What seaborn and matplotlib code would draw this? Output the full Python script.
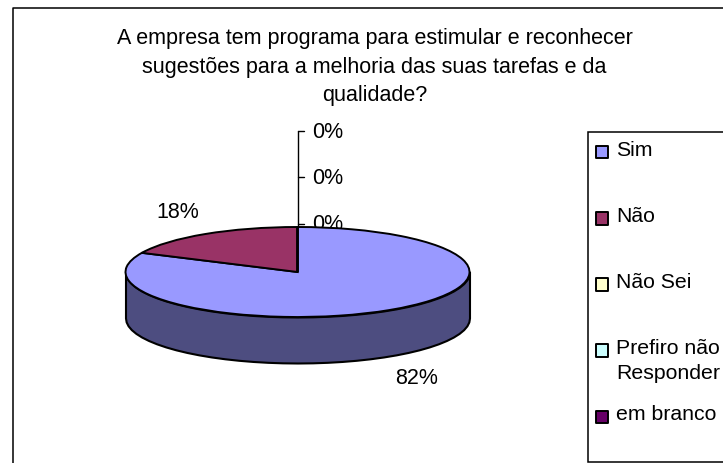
"""Pie chart from a survey question, drawn as a tilted 3D pie with side legend."""

import numpy as np
import pandas as pd
import matplotlib
matplotlib.use("Agg")
import matplotlib.pyplot as plt
from matplotlib.patches import Rectangle
import seaborn as sns

TITLE = ("A empresa tem programa para estimular e reconhecer\n"
         "sugestões para a melhoria das suas tarefas e da\n"
         "qualidade?")
CATEGORIES = ["Sim", "Não", "Não Sei", "Prefiro não\nResponder", "em branco"]
VALUES = [82, 18, 0, 0, 0]
COLORS = ["#9999FF", "#993366", "#FFFFCC", "#CCFFFF", "#660066"]
SIDE_COLOR = "#4D4D80"

sns.set_theme(style="white")
plt.rcParams["font.family"] = ["Liberation Sans", "DejaVu Sans"]

W, H = 723, 463
FS = 15.5
fig = plt.figure(figsize=(W / 100, H / 100), dpi=100)

# background layer works in image pixels
bg = fig.add_axes([0, 0, 1, 1], zorder=0)
bg.set_xlim(0, W)
bg.set_ylim(H, 0)
bg.axis("off")
bg.plot([12.5, 12.5, W], [H, 8, 8], color="black", lw=1.1)
bg.text(374.5, 67, TITLE, ha="center", va="center", fontsize=FS, color="black",
        linespacing=1.47)

# leader lines of the three empty slices
zero_y = [131, 177, 224]
bg.plot([298, 298], [zero_y[0], 240], color="black", lw=1)
for y, v in zip(zero_y, VALUES[2:]):
    bg.plot([298, 304], [y, y], color="black", lw=1)
    bg.text(312, y + 1, f"{v}%", ha="left", va="center", fontsize=FS, color="black")
bg.text(178, 212.5, f"{VALUES[1]}%", ha="center", va="center", fontsize=FS, color="black")
bg.text(417, 379, f"{VALUES[0]}%", ha="center", va="center", fontsize=FS, color="black")

# legend
bg.add_patch(Rectangle((587.5, 131.5), 150, 330, fc="white", ec="black", lw=1.1))
leg = pd.DataFrame({
    "cat": CATEGORIES,
    "x": 602,
    "y": [152 + 66.25 * i for i in range(len(CATEGORIES))],
})
sns.scatterplot(data=leg, x="x", y="y", hue="cat", palette=COLORS, marker="s", s=85,
                edgecolor="black", linewidth=1.4, legend=False, ax=bg)
bg.set_xlim(0, W)
bg.set_ylim(H, 0)
text_y = [151, 216, 283, 361, 415]
for cat, y in zip(CATEGORIES, text_y):
    bg.text(616, y, cat, ha="left", va="center", fontsize=FS - 0.2, color="black",
            linespacing=1.38)

# pie: unit circle squashed into the ellipse by the axes shape
cx, cy, a, b, depth = 297.5, 272, 172, 45, 46
ax = fig.add_axes([(cx - a) / W, 1 - (cy + b) / H, 2 * a / W, 2 * b / H], zorder=1)
ax.patch.set_alpha(0)
theta = np.radians(np.linspace(180, 360, 37))
xs, ys = np.cos(theta), np.sin(theta)
d = depth / b
ax.fill_between(xs, ys, ys - d, color=SIDE_COLOR, ec="black", lw=1.5, clip_on=False)
ax.pie(VALUES, colors=COLORS, startangle=90, counterclock=False,
       wedgeprops={"edgecolor": "black", "linewidth": 1.4, "clip_on": False})
ax.set_aspect("auto")
ax.set_xlim(-1, 1)
ax.set_ylim(-1, 1)
ax.axis("off")

fig.savefig("out.png", dpi=100)
